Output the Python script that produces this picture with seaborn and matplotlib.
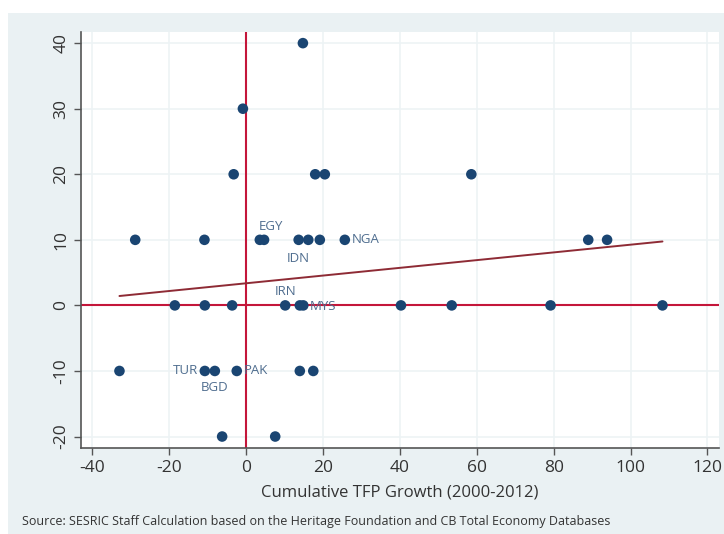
import matplotlib
matplotlib.use("Agg")
import matplotlib.pyplot as plt
import seaborn as sns
import pandas as pd
from matplotlib.patches import Rectangle

# ---- data ----
tfp_growth = [14.8, -0.8, -3.2, 18.0, 20.5, 58.6,
              -28.8, -10.8, 3.6, 4.7, 13.7, 16.2, 19.2, 25.7, 89.0, 93.9,
              -18.5, -10.7, -3.6, 10.2, 14.0, 14.9, 40.3, 53.5, 79.2, 108.3,
              -32.9, -10.7, -8.1, -2.4, 14.0, 17.5,
              -6.2, 7.6]
score_change = [40, 30, 20, 20, 20, 20,
                10, 10, 10, 10, 10, 10, 10, 10, 10, 10,
                0, 0, 0, 0, 0, 0, 0, 0, 0, 0,
                -10, -10, -10, -10, -10, -10,
                -20, -20]
country = ["", "", "", "", "", "",
           "", "", "EGY", "", "IDN", "", "", "NGA", "", "",
           "", "", "", "IRN", "", "MYS", "", "", "", "",
           "", "TUR", "BGD", "PAK", "", "",
           "", ""]
x_ticks = [-40, -20, 0, 20, 40, 60, 80, 100, 120]
y_ticks = [-20, -10, 0, 10, 20, 30, 40]
x_label = "Cumulative TFP Growth (2000-2012)"
source = "Source: SESRIC Staff Calculation based on the Heritage Foundation and CB Total Economy Databases"

df = pd.DataFrame({"tfp": tfp_growth, "score": score_change, "iso": country})

# label placement (offsets in points)
label_pos = {"EGY": (-1, 5, "left", "bottom"), "IDN": (0, -9, "center", "top"),
             "NGA": (5, 0, "left", "center"), "IRN": (0, 5, "center", "bottom"),
             "MYS": (5, -1, "left", "center"), "TUR": (-5, 0, "right", "center"),
             "BGD": (0, -7, "center", "top"), "PAK": (5, 0, "left", "center")}

sns.set_style("white")
plt.rcParams["font.family"] = ["Open Sans", "DejaVu Sans"]
plt.rcParams["axes.unicode_minus"] = False

bg = "#eaf1f3"
point_c = "#1a4572"
red = "#c4163a"
reg_c = "#8e2b35"
label_c = "#4f6d8f"
grid_c = "#edf3f5"

fig = plt.figure(figsize=(7.24, 5.34), dpi=100, facecolor="white")
fig.patches.append(Rectangle((8 / 724, 0), 1 - 8 / 724, 1 - 13 / 534,
                             transform=fig.transFigure, facecolor=bg,
                             edgecolor="none", zorder=-10))
ax = fig.add_axes([81 / 724, 1 - 448 / 534, (719 - 81) / 724, (448 - 32) / 534])
ax.set_facecolor("white")

ax.set_xlim(-42.9, 123)
ax.set_ylim(-21.75, 41.7)
ax.set_xticks(x_ticks)
ax.set_yticks(y_ticks)
ax.grid(True, color=grid_c, linewidth=1.2, zorder=0)
ax.set_axisbelow(True)

ax.axhline(0, color=red, linewidth=1.5, zorder=2)
ax.axvline(0, color=red, linewidth=1.5, zorder=2)

sns.regplot(data=df, x="tfp", y="score", ax=ax, ci=None, scatter=False,
            line_kws={"color": reg_c, "linewidth": 1.4, "zorder": 3})
sns.scatterplot(data=df, x="tfp", y="score", ax=ax, color=point_c, s=58,
                edgecolor="none", zorder=4)

for _, r in df.iterrows():
    if r["iso"]:
        dx, dy, ha, va = label_pos[r["iso"]]
        ax.annotate(r["iso"], (r["tfp"], r["score"]), xytext=(dx, dy),
                    textcoords="offset points", ha=ha, va=va,
                    fontsize=9.5, color=label_c, zorder=5)

for s in ["top", "right"]:
    ax.spines[s].set_visible(False)
for s in ["left", "bottom"]:
    ax.spines[s].set_color("#555555")
    ax.spines[s].set_linewidth(1.2)

ax.tick_params(axis="both", length=5, width=1, color="#555555",
               labelsize=12.5, labelcolor="#333333", bottom=True, left=True)
for lab in ax.get_yticklabels():
    lab.set_rotation(90)
    lab.set_va("center")
ax.set_xlabel(x_label, fontsize=12, color="#333333", labelpad=6)
ax.set_ylabel("")

fig.text(22 / 724, 1 - 522 / 534, source, fontsize=9, color="#333333",
         ha="left", va="center")

fig.savefig("out.png", dpi=100, facecolor="white")
